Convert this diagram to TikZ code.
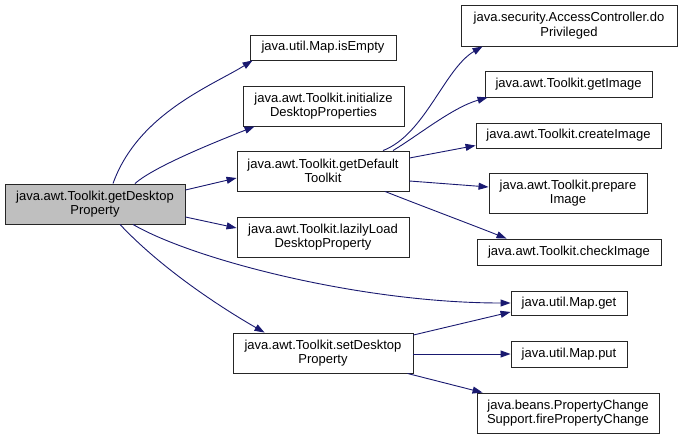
\documentclass[tikz,border=0pt]{standalone}
\usepackage{fontspec}
\setmainfont{Liberation Sans}
\usepackage{tikz}
\usetikzlibrary{arrows.meta,positioning}
\definecolor{edgeblue}{HTML}{191970}
\tikzset{
  call-node/.style={draw=black!85, fill=white, line width=0.9pt, align=center,
    inner sep=0pt, font=\fontsize{13pt}{14.5pt}\selectfont},
  call-root/.style={call-node, fill=black!25},
  call-edge/.style={-{Triangle[length=10pt,width=7pt]}, draw=edgeblue, line width=0.9pt}
}
\begin{document}
\begin{tikzpicture}[x=1pt, y=-1pt]
  \useasboundingbox (0,0) rectangle (681,439);
  \node[call-root, minimum width=180pt, minimum height=40pt] (root) at (95,204) {java.awt.Toolkit.getDesktop\\Property};
  \node[call-node, minimum width=146pt, minimum height=25pt] (isempty) at (323,47.5) {java.util.Map.isEmpty};
  \node[call-node, minimum width=161pt, minimum height=40pt] (initprops) at (323.5,106) {java.awt.Toolkit.initialize\\DesktopProperties};
  \node[call-node, minimum width=172pt, minimum height=40pt] (deftoolkit) at (323,171) {java.awt.Toolkit.getDefault\\Toolkit};
  \node[call-node, minimum width=172pt, minimum height=40pt] (lazyload) at (323,237) {java.awt.Toolkit.lazilyLoad\\DesktopProperty};
  \node[call-node, minimum width=180pt, minimum height=40pt] (setprop) at (323,353) {java.awt.Toolkit.setDesktop\\Property};
  \node[call-node, minimum width=216pt, minimum height=41pt] (doprivileged) at (569,25.5) {java.security.AccessController.do\\Privileged};
  \node[call-node, minimum width=167pt, minimum height=26pt] (getimage) at (568.5,84) {java.awt.Toolkit.getImage};
  \node[call-node, minimum width=185pt, minimum height=25pt] (createimage) at (568.5,135.5) {java.awt.Toolkit.createImage};
  \node[call-node, minimum width=158pt, minimum height=40pt] (prepareimage) at (568,193) {java.awt.Toolkit.prepare\\Image};
  \node[call-node, minimum width=184pt, minimum height=26pt] (checkimage) at (569,252) {java.awt.Toolkit.checkImage};
  \node[call-node, minimum width=116pt, minimum height=24pt] (mapget) at (569,303) {java.util.Map.get};
  \node[call-node, minimum width=116pt, minimum height=26pt] (mapput) at (569,354) {java.util.Map.put};
  \node[call-node, minimum width=182pt, minimum height=40pt] (firechange) at (568,413) {java.beans.PropertyChange\\Support.firePropertyChange};
  % calls made by getDesktopProperty
  \draw[call-edge] ([xshift=18pt]root.north) .. controls +(25,-70) and +(-40,25) .. ([xshift=3pt]isempty.south west);
  \draw[call-edge] ([xshift=40pt]root.north) .. controls +(20,-18) and +(-30,12) .. ([xshift=12pt]initprops.south west);
  \draw[call-edge] ([yshift=14pt]root.east) -- ([yshift=-7pt]deftoolkit.west);
  \draw[call-edge] ([yshift=-13pt]root.east) -- ([yshift=9pt]lazyload.west);
  \draw[call-edge] ([xshift=38pt]root.south) .. controls +(60,35) and +(-150,0) .. (mapget.west);
  \draw[call-edge] ([xshift=25pt]root.south) .. controls +(45,48) and +(-35,-20) .. ([xshift=32pt]setprop.north west);
  % calls made by getDefaultToolkit
  \draw[call-edge] ([xshift=60pt]deftoolkit.north) .. controls +(42,-16) and +(-38,22) .. ([xshift=22pt]doprivileged.south west);
  \draw[call-edge] ([xshift=70pt]deftoolkit.north) .. controls +(25,-15) and +(-35,10) .. ([xshift=3pt]getimage.south west);
  \draw[call-edge] ([yshift=13pt]deftoolkit.east) -- ([yshift=-10pt]createimage.west);
  \draw[call-edge] ([yshift=-10pt]deftoolkit.east) -- ([yshift=6pt]prepareimage.west);
  \draw[call-edge] ([xshift=62pt]deftoolkit.south) .. controls +(25,10) and +(-30,-12) .. ([xshift=30pt]checkimage.north west);
  % calls made by setDesktopProperty
  \draw[call-edge] ([yshift=18pt]setprop.east) -- ([yshift=-9pt]mapget.west);
  \draw[call-edge] ([yshift=-1pt]setprop.east) -- (mapput.west);
  \draw[call-edge] ([xshift=-6pt]setprop.south east) -- ([xshift=6pt]firechange.north west);
\end{tikzpicture}
\end{document}
